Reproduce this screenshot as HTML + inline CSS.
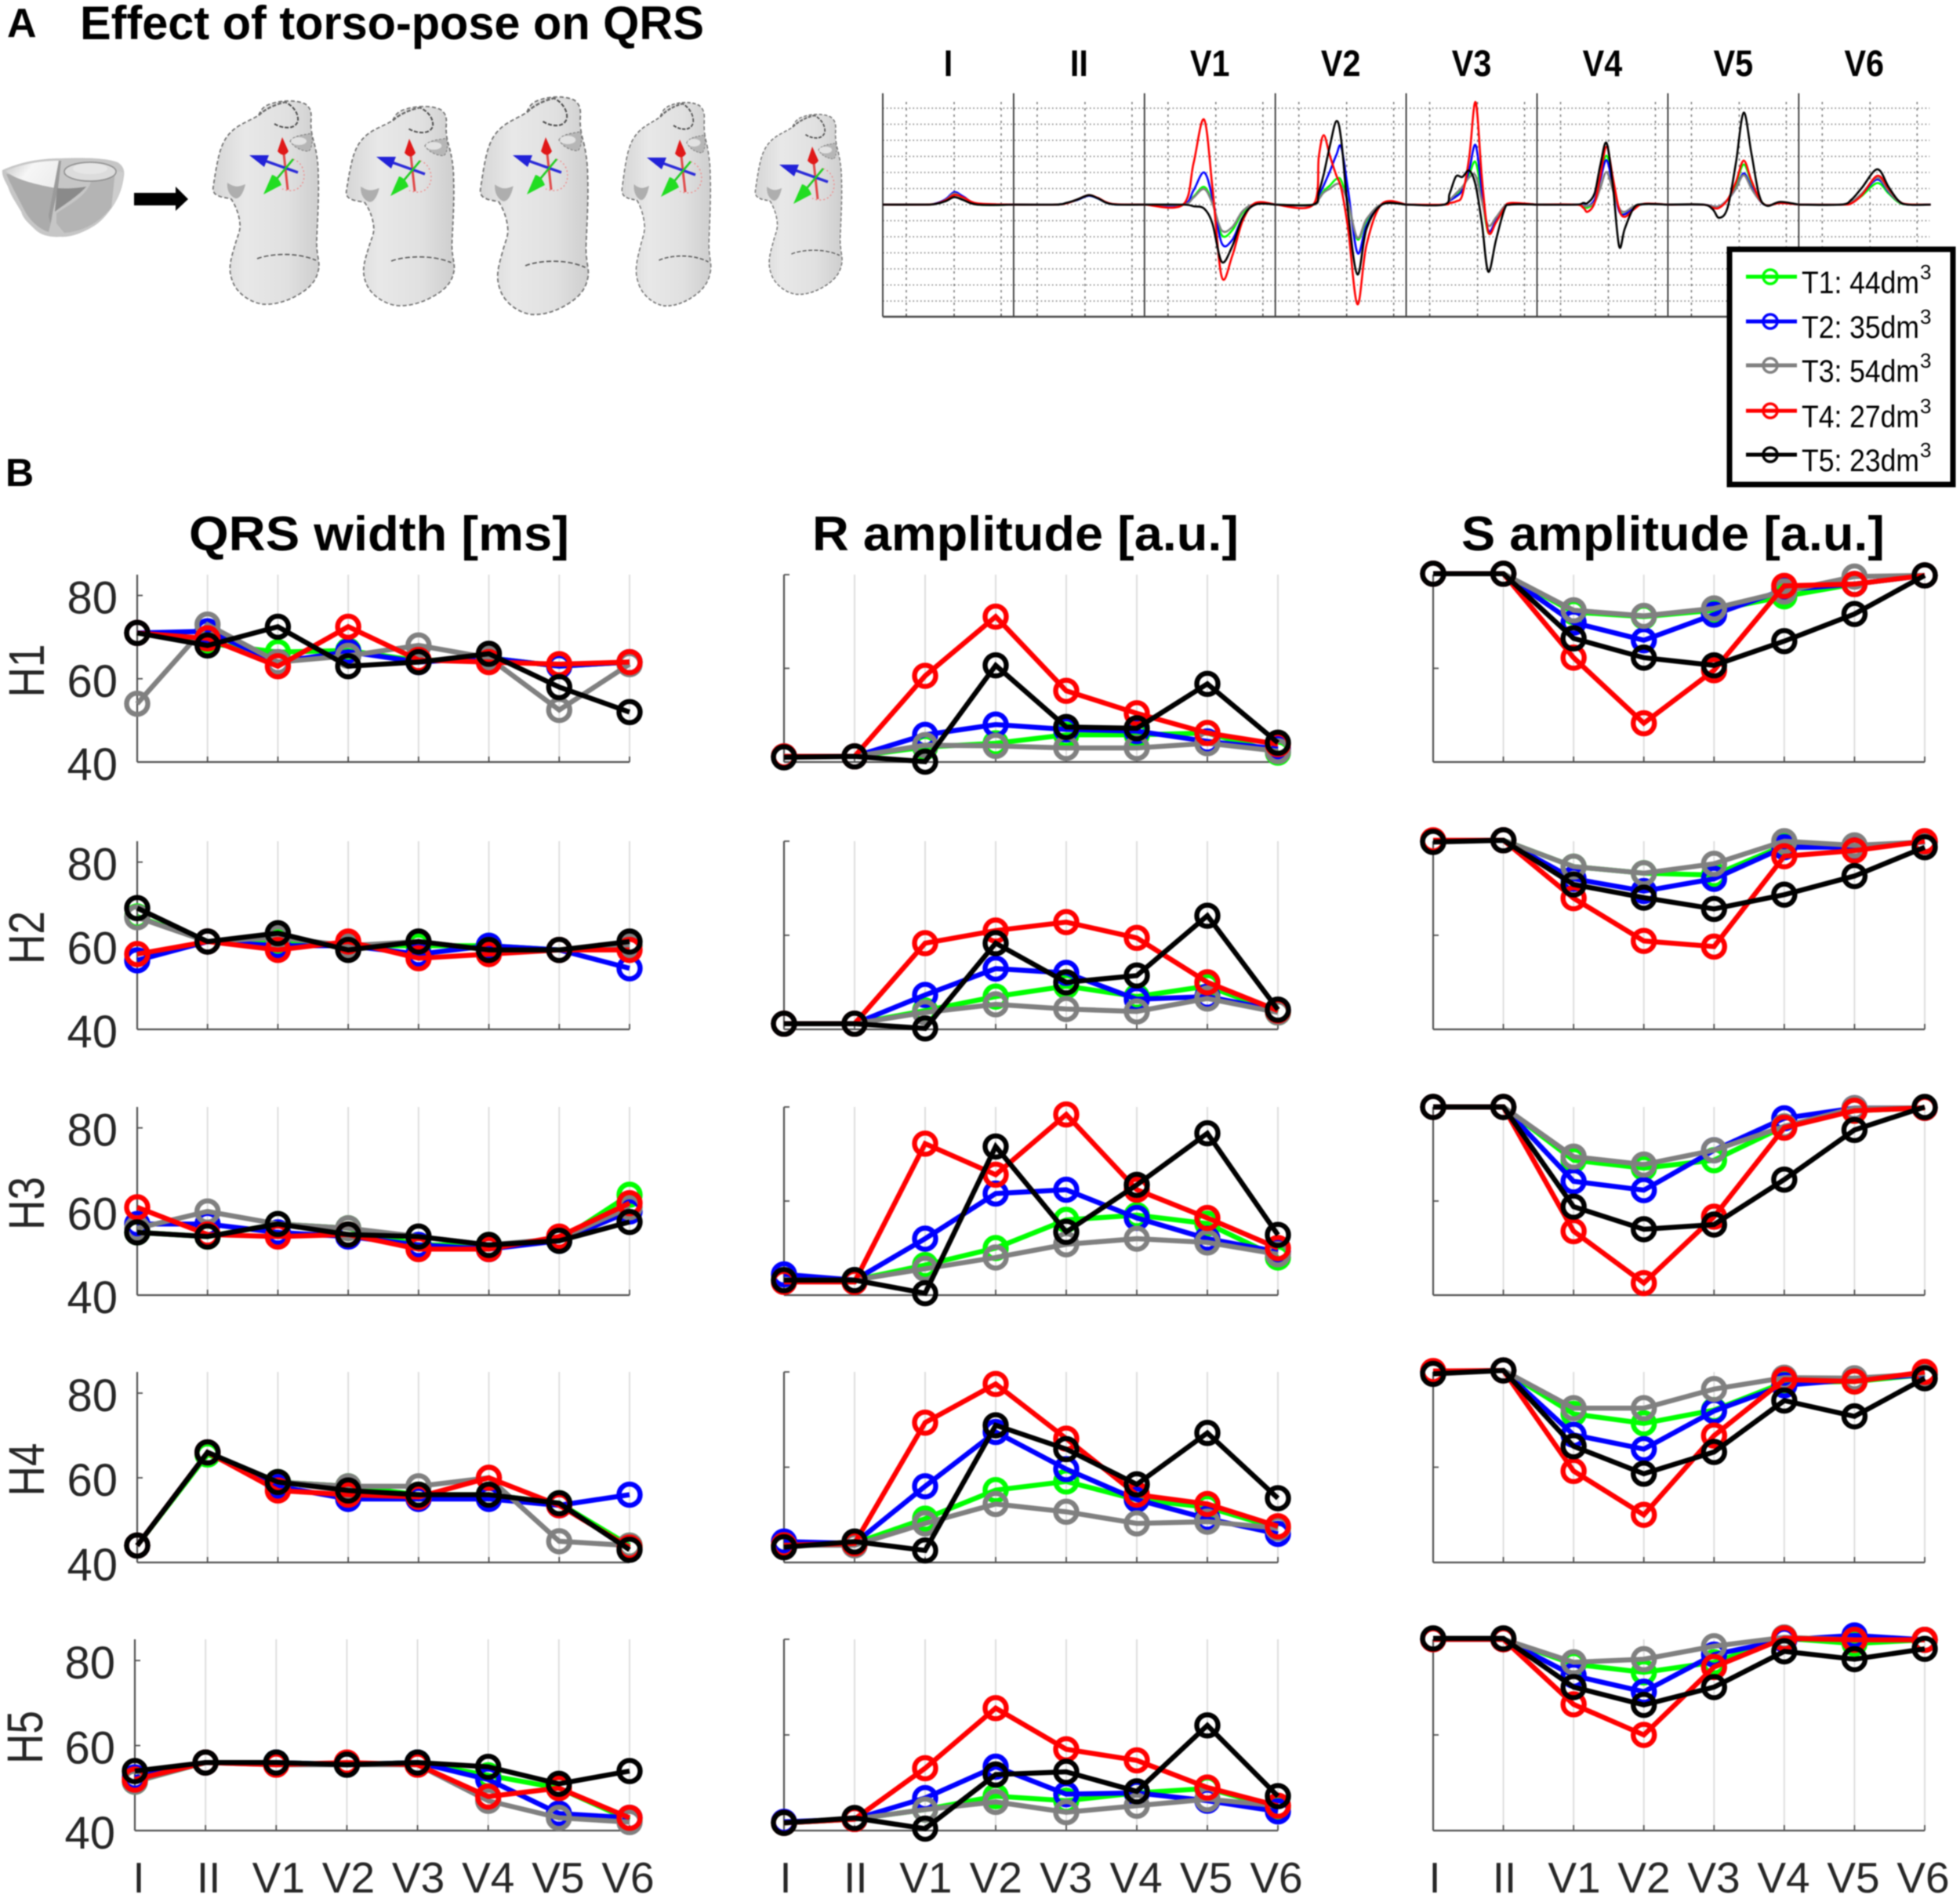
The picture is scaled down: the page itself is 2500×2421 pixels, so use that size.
<!DOCTYPE html>
<html lang="en">
<head>
<meta charset="utf-8">
<title>Effect of torso-pose on QRS</title>
<style>
html,body{margin:0;padding:0;background:#fff;}
body{width:2500px;height:2421px;overflow:hidden;}
svg{display:block;filter:blur(0.9px);font-family:"Liberation Sans",Arial,sans-serif;}
</style>
</head>
<body>
<svg id="figure" xmlns="http://www.w3.org/2000/svg" width="2500" height="2421" viewBox="0 0 2500 2421">
  <defs>
    <linearGradient id="torsoFill" x1="0" y1="0" x2="1" y2="0">
      <stop offset="0" stop-color="#d6d6d6"/>
      <stop offset="0.3" stop-color="#e8e8e8"/>
      <stop offset="0.7" stop-color="#e0e0e0"/>
      <stop offset="1" stop-color="#cecece"/>
    </linearGradient>
    <linearGradient id="heartLight" x1="0" y1="0" x2="1" y2="0.4">
      <stop offset="0" stop-color="#c4c4c4"/>
      <stop offset="0.5" stop-color="#f6f6f6"/>
      <stop offset="1" stop-color="#eeeeee"/>
    </linearGradient>
    <g id="torsoShape">
      <path d="M55 17 C58 8 64 4 72 2 C84 -2 104 -3 115 3 C121 8 122 12 122 20 C121 30 122 38 124 46 C128 60 131 75 131 95 C132 120 130 150 129 175 C128 195 134 205 131 215 C128 230 118 240 98 250 C85 256 72 259 60 258 C45 256 28 245 22 230 C16 215 18 205 24 185 C28 170 32 165 31 155 C30 145 27 135 20 124 C14 122 8 122 4 120 C-2 118 -4 114 -3 108 C-1 95 2 75 6 62 C10 50 14 44 20 38 C30 28 44 24 55 17 Z" fill="url(#torsoFill)" stroke="#6e6e6e" stroke-width="1.7" stroke-dasharray="5 3"/>
      <path d="M75 28 C85 34 102 36 105 24 C106 14 98 4 88 0" fill="none" stroke="#4a4a4a" stroke-width="2" stroke-dasharray="5 2"/>
      <path d="M55 17 C62 10 75 3 90 0" fill="none" stroke="#666" stroke-width="2.4" stroke-dasharray="5 2"/>
      <path d="M95 50 C100 42 115 42 122 40 C125 50 122 62 118 63 C108 62 100 58 95 50 Z" fill="#b6b6b6" stroke="#777" stroke-width="1" stroke-dasharray="3 2"/>
      <ellipse cx="106" cy="50" rx="10" ry="5" fill="#e2e2e2"/>
      <path d="M15 103 C25 110 30 108 38 105 C35 118 30 124 25 123 C18 120 14 112 15 103 Z" fill="#aeaeae"/>
      <path d="M53 200 C65 195 100 190 128 202" fill="none" stroke="#555" stroke-width="1.6" stroke-dasharray="6 3"/>
    </g>
    <g id="axisArrows">
      <path d="M2 27 L-4 -28" stroke="#e04848" stroke-width="3"/>
      <path d="M-5 -40 L3 -22 Q-3 -13 -11 -22 Z" fill="#e01818"/>
      <path d="M9 -12 C26 -6 28 20 12 27 C6 29 0 28 -5 26" fill="none" stroke="#e88" stroke-width="1.4" stroke-dasharray="2 3"/>
      <path d="M15 5 L-30 -11" stroke="#2a2ad8" stroke-width="3.4"/>
      <path d="M-47 -17 L-28 -2 L-22 -17 Z" fill="#2222d8"/>
      <path d="M9 -12 L-16 18" stroke="#22cc22" stroke-width="2.6"/>
      <path d="M-29 33 L-6 21 Q-10 10 -18 8 Z" fill="#22dd22"/>
    </g>
  </defs>

  <text x="9" y="47" font-size="52" font-weight="700" fill="#000">A</text>
  <text x="102" y="50" font-size="60" font-weight="700" fill="#000" textLength="796" lengthAdjust="spacingAndGlyphs">Effect of torso-pose on QRS</text>
  <text x="7" y="620" font-size="50" font-weight="700" fill="#000">B</text>

  <g>
    <path d="M3 217 C25 207 50 202 77 202 C105 201 135 201 150 207 C158 212 159 218 158 225 C156 240 152 250 146 260 C136 275 128 284 117 290 C105 297 90 303 77 302 C64 303 52 300 45 293 C36 284 30 280 27 270 C20 258 14 250 10 238 C6 230 2 224 3 217 Z" fill="#c6c6c6"/>
    <path d="M8 222 C25 222 40 232 71 240 L66 280 L62 296 C50 292 38 282 30 266 C22 250 14 236 8 222 Z" fill="#ababab"/>
    <path d="M7 218 C25 210 50 205 75 205 L71 240 C50 236 20 230 7 218 Z" fill="url(#heartLight)"/>
    <path d="M75 205 L78 205 L74 240 L64 285 L62 275 Z" fill="#9a9a9a"/>
    <path d="M73 240 C85 241 100 240 110 238 C100 250 80 262 70 270 Z" fill="#8a8a8a"/>
    <path d="M80 222 L147 218 L144 262 C132 278 112 295 82 297 L72 285 L72 272 C90 260 110 250 116 232 Z" fill="#b4b4b4"/>
    <path d="M147 218 L157 220 C156 240 150 255 142 266 Z" fill="#cdcdcd"/>
    <ellipse cx="115" cy="219" rx="33" ry="12" fill="#dcdcdc" stroke="#8c8c8c" stroke-width="1.5"/>
    <ellipse cx="115" cy="215" rx="22" ry="7" fill="#e6e6e6"/>
  </g>
  <path d="M171 246 L224 246 L224 238 L240 254 L224 269 L224 262 L171 262 Z" fill="#000"/>

  <use href="#torsoShape" transform="translate(275,130) scale(1,1)"/>
  <use href="#torsoShape" transform="translate(445,137) scale(1.02,0.98)"/>
  <use href="#torsoShape" transform="translate(616,125) scale(1.02,1.07)"/>
  <use href="#torsoShape" transform="translate(796,132) scale(0.84,1)"/>
  <use href="#torsoShape" transform="translate(966,147) scale(0.82,0.885)"/>
  <use href="#axisArrows" transform="translate(365,215)"/>
  <use href="#axisArrows" transform="translate(527,217)"/>
  <use href="#axisArrows" transform="translate(701,215)"/>
  <use href="#axisArrows" transform="translate(872,218)"/>
  <use href="#axisArrows" transform="translate(1041,227)"/>

  <g id="ecgLayer"></g>
  <g id="plotLayer"></g>

  <text x="241" y="702" font-size="62" font-weight="700" fill="#000" textLength="485" lengthAdjust="spacingAndGlyphs">QRS width [ms]</text>
  <text x="1036" y="702" font-size="62" font-weight="700" fill="#000" textLength="544" lengthAdjust="spacingAndGlyphs">R amplitude [a.u.]</text>
  <text x="1864" y="702" font-size="62" font-weight="700" fill="#000" textLength="540" lengthAdjust="spacingAndGlyphs">S amplitude [a.u.]</text>

  <g>
    <rect x="2206" y="318" width="285" height="300" fill="#fff" stroke="#000" stroke-width="7"/>
    <g>
      <line x1="2227" y1="353" x2="2292" y2="353" stroke="#00ff00" stroke-width="5"/>
      <circle cx="2258" cy="353" r="9" fill="none" stroke="#00ff00" stroke-width="3.5"/>
      <text x="2298" y="374" font-size="40" fill="#000" textLength="150" lengthAdjust="spacingAndGlyphs">T1: 44dm</text>
      <text x="2449" y="356" font-size="26" fill="#000">3</text>
    </g>
    <g>
      <line x1="2227" y1="410" x2="2292" y2="410" stroke="#0000ff" stroke-width="5"/>
      <circle cx="2258" cy="410" r="9" fill="none" stroke="#0000ff" stroke-width="3.5"/>
      <text x="2298" y="431" font-size="40" fill="#000" textLength="150" lengthAdjust="spacingAndGlyphs">T2: 35dm</text>
      <text x="2449" y="413" font-size="26" fill="#000">3</text>
    </g>
    <g>
      <line x1="2227" y1="466" x2="2292" y2="466" stroke="#808080" stroke-width="5"/>
      <circle cx="2258" cy="466" r="9" fill="none" stroke="#808080" stroke-width="3.5"/>
      <text x="2298" y="487" font-size="40" fill="#000" textLength="150" lengthAdjust="spacingAndGlyphs">T3: 54dm</text>
      <text x="2449" y="469" font-size="26" fill="#000">3</text>
    </g>
    <g>
      <line x1="2227" y1="524" x2="2292" y2="524" stroke="#ff0000" stroke-width="5"/>
      <circle cx="2258" cy="524" r="9" fill="none" stroke="#ff0000" stroke-width="3.5"/>
      <text x="2298" y="545" font-size="40" fill="#000" textLength="150" lengthAdjust="spacingAndGlyphs">T4: 27dm</text>
      <text x="2449" y="527" font-size="26" fill="#000">3</text>
    </g>
    <g>
      <line x1="2227" y1="580" x2="2292" y2="580" stroke="#000000" stroke-width="5"/>
      <circle cx="2258" cy="580" r="9" fill="none" stroke="#000000" stroke-width="3.5"/>
      <text x="2298" y="601" font-size="40" fill="#000" textLength="150" lengthAdjust="spacingAndGlyphs">T5: 23dm</text>
      <text x="2449" y="583" font-size="26" fill="#000">3</text>
    </g>
  </g>
</svg>

<script>
// ---- categories ----
const leads = ['I','II','V1','V2','V3','V4','V5','V6'];
const heartRows = ['H1','H2','H3','H4','H5'];
const seriesColors = ['#00ff00','#0000ff','#808080','#ff0000','#000000'];
const qrsTicks = [40,60,80];
const ampTicks = [0,50,100];

// ---- QRS width [ms]: one row per torso T1..T5 ----
const qrsH1 = [
  [71,68.5,66.4,66.8,64.3,65,63,64],
  [71,71.4,64,66.5,64,65,63,64],
  [54,73,64,65.5,68,65,52.5,63.5],
  [71,69.7,63,72.5,64.5,64,63.5,64],
  [71,68,72.5,63,64,66,58,52]];
const qrsH2 = [
  [67,61,61,60,60,60,59,60],
  [56.5,61,60,60,58,60,59,54.6],
  [66.8,61,62,60,61,59,59,60],
  [58,61,59,61,57,58,59,59],
  [69,61,63,59,61,59,59,61]];
const qrsH3 = [
  [55,54,57,56,52,52,53,64],
  [57,57,55,54,52,51,53,60],
  [56,60,57,56,54,52,53.5,61],
  [61,54.5,54,54.5,51,51,54,62],
  [55,54,57,54.5,54,52,53,57.5]];
const qrsH4 = [
  [44,65.5,59,58,56,56,54,44],
  [44,66,58,55,55,55,53.5,56],
  [44,66,59,58,58,60,45,44],
  [44,66,57,56,55.5,60,53.5,43.5],
  [44,66,59,57,56,56,54,43]];
const qrsH5 = [
  [51.5,56,56,55.5,56,53,50,42.5],
  [52.5,56,56,55.5,56,52,44,43],
  [51.5,56,55.5,55.5,55.5,47,43,42],
  [52,56,55.5,56,55.5,48,50,43],
  [54,56,56,55.5,56,55,51,54]];

// ---- R amplitude (percent of axis height) ----
const rH1 = [
  [3,3,8,10,14.5,14.5,15.5,5],
  [3,3,14.5,20,17.4,16.5,11,7],
  [3,3,9,8.6,7.5,7.5,10,5.8],
  [3,3,46,77.6,38,26,15.5,9.5],
  [2.5,3,0.2,51.6,18.7,18,41.7,10.3]];
const rH2 = [
  [3,3,10,17.4,23,17.4,23,9],
  [3,3,18.3,32.3,30,16,17.4,10],
  [3,3,9,13.3,10.8,9.5,16.4,9],
  [3,3,45.8,52.5,57,48.6,25,10],
  [3,3,0.5,45.8,25,28.6,60.4,10.5]];
const rH3 = [
  [8,8,16,25,40,42.5,38,20],
  [11,8,30,54,56,41,30,23],
  [8,8,14,20,27,30,28,21.7],
  [7,7,80.5,64,96,56,41,25],
  [8,8,1,79,33.6,58.6,86,32]];
const rH4 = [
  [9,10,23,38,42.5,33,29,18],
  [11,10,40,68.5,49,33,23,15],
  [9,9,20.5,30.7,26.6,20.5,21.4,18],
  [9,10,73.4,93.7,65,35.6,30.7,19],
  [8,11,6.3,72,59.5,41,68,33.7]];
const rH5 = [
  [4,6,11,18,15.6,19.7,22,12],
  [4.6,6,17,33.4,19,19.7,15.6,10],
  [4,6,11,15,9.6,13,16.4,13],
  [4,6,32.6,64,42.5,36.7,22.5,13],
  [4,6.6,1,29.3,30.7,20.5,55,18]];

// ---- S amplitude (percent of axis height) ----
const sH1 = [
  [100.5,100.5,80,77.6,81,88.4,95,99.6],
  [100.5,100.5,74.4,65,78.7,92,95,99.6],
  [100.5,100.5,81,78,82,91,99,99.6],
  [100.5,100.5,55.7,20.7,49,94,95,99.6],
  [100.5,100.5,66,55.7,51.6,64.5,79,99.6]];
const sH2 = [
  [100,100.5,86.5,83,82,97.8,96.8,99.6],
  [100,100.5,80,73.5,80,96.8,96.8,99.6],
  [100,100.5,86.5,83,88,100,97.8,99.6],
  [100.5,100.5,69.7,47,44,92,95,100],
  [99.6,100.5,77,70,64,71.6,81.5,96.8]];
const sH3 = [
  [100,100,71.7,67.5,71.7,89.7,98,99.5],
  [100,100,60.5,55.8,77,94,99.4,99.5],
  [100,100,73.6,69.4,77,89.7,99.4,99.5],
  [100,100,34,6.4,41.7,89,98,99.5],
  [100,100,47,35,37.5,61.4,87.8,100]];
const sH4 = [
  [100,100.8,78,73,80,94.5,95,98.6],
  [100,100.8,67,59.5,79.5,93,96,98.6],
  [100,100.8,81,81,91,97,96.7,99],
  [100.5,100.8,48,25,66.6,96,95,100],
  [99,100.8,61,46.6,58,85,76.7,96.7]];
const sH5 = [
  [100,100,87,82.7,88,100.5,97.8,99.7],
  [100,100,81,72.6,92,99.7,102,99.7],
  [100,100,88,89.6,96.4,101,99.7,99.7],
  [100,100,66,50,85.5,100.5,99.7,99.7],
  [100.5,100.5,75,65.7,75,93.7,89.6,95]];

// ---- ECG waveforms: sample times and amplitudes (grid units), T1..T5 ----
const ecgI_t = [0,60,75,90,102,115,135,187];
const ecgI = [
  [0,0,.05,.25,.65,.4,0,0],
  [0,0,.07,.35,.78,.5,.05,0],
  [0,0,.05,.3,.7,.4,0,0],
  [0,0,.05,.28,.6,.45,.08,0],
  [0,0,.04,.22,.47,.28,0,0]];
const ecgII_t = [0,60,75,90,107,120,140,187];
const ecgII = [
  [0,0,.1,.28,.55,.38,.03,0],
  [0,0,.1,.28,.55,.38,.03,0],
  [0,0,.1,.32,.6,.4,.03,0],
  [0,0,.08,.3,.58,.42,.05,0],
  [0,0,.1,.3,.58,.4,.03,0]];
const ecgV1_t = [0,55,70,85,97,110,125,140,158,187];
const ecgV1 = [
  [0,0,.5,1.1,.1,-1.9,-1.6,-.5,.05,0],
  [0,0,.9,2.0,.4,-2.4,-2.2,-.8,.05,0],
  [0,0,.45,.97,.05,-1.6,-1.4,-.4,.05,0],
  [0,0,2.6,5.29,1.0,-4.49,-3.2,-1.0,.1,0],
  [0,0,-.1,-.25,-1.2,-3.56,-2.6,-.8,0,0]];
const ecgV2_t = [0,54,62,69,78,87,94,104,117,130,152,187];
const ecgV2 = [
  [0,0,.4,.85,1.2,1.6,1.5,.1,-2.16,-1.0,.03,0],
  [0,0,.6,1.2,2.1,3.1,3.57,.8,-3.0,-1.3,.05,0],
  [0,0,.35,.75,1.0,1.28,1.15,.1,-2.07,-.9,.03,0],
  [0,0,3.0,4.32,3.0,1.8,1.0,-1.6,-6.2,-2.5,.05,0],
  [0,0,.8,1.9,3.7,5.2,4.0,-.6,-4.34,-1.5,0,0]];
const ecgV3_t = [0,54,62,71,80,90,99,108,117,128,140,149,187];
const ecgV3 = [
  [0,0,.25,.6,1.0,1.9,2.64,.5,-1.75,-1.1,-.2,.05,0],
  [0,0,.25,.5,.9,2.2,3.7,.8,-1.6,-1.0,-.2,.05,0],
  [0,0,.3,.7,1.1,1.7,1.8,.2,-1.3,-.8,-.1,.05,0],
  [0,0,.1,.2,.6,3.0,6.37,1.6,-1.7,-1.1,-.2,.1,0],
  [0,0,.7,1.75,1.72,2.12,1.2,-1.2,-4.17,-2.2,-.3,0,0]];
const ecgV4_t = [0,55,66,72,82,90,99,108,117,125,138,152,187];
const ecgV4 = [
  [0,0,-.1,-.2,.2,1.5,3.05,1.4,-.3,-.6,-.2,.03,0],
  [0,0,0,-.1,.3,1.5,2.77,1.2,-.4,-.6,-.2,.03,0],
  [0,0,-.05,-.1,.15,1.0,2.03,.9,-.2,-.45,-.1,.03,0],
  [0,0,-.2,-.45,.1,1.7,3.6,1.7,-.3,-.76,-.3,.05,0],
  [0,0,.1,.1,.7,2.4,3.84,1.2,-2.59,-1.5,-.2,.03,0]];
const ecgV5_t = [0,50,64,73,85,97,108,119,130,141,160,187];
const ecgV5 = [
  [0,0,-.15,-.15,.3,1.3,2.5,1.4,.4,-.05,.1,0],
  [0,0,-.1,-.1,.3,1.0,1.94,1.1,.3,-.05,.1,0],
  [0,0,-.1,-.1,.3,1.0,1.84,1.0,.3,-.05,.1,0],
  [0,0,-.2,-.2,.3,1.4,2.74,1.5,.4,-.05,.1,0],
  [0,0,-.3,-.82,-.2,2.6,5.72,3.2,.6,-.07,.17,0]];
const ecgV6_t = [0,60,75,90,112,128,142,155,188];
const ecgV6 = [
  [0,0,.1,.55,1.34,.7,.15,0,0],
  [0,0,.15,.65,1.56,.8,.2,0,0],
  [0,0,.15,.7,1.66,.85,.2,0,0],
  [0,0,.08,.6,1.79,1.0,.25,.02,0],
  [0,0,.3,1.05,2.2,1.1,.25,0,0]];

const NS = 'http://www.w3.org/2000/svg';
function mk(tag, attrs, parent, text) {
  const el = document.createElementNS(NS, tag);
  for (const k in attrs) el.setAttribute(k, attrs[k]);
  if (text !== undefined) el.textContent = text;
  parent.appendChild(el);
  return el;
}

// ---------- Panel B small multiples ----------
const rowTop = [733,1073,1412,1750,2091];
const rowBottom = [972,1313,1652,1993,2335];
const colLeft = [175,1000,1828];
const colRight = [803,1630,2455];
const columns = [
  {rows:[qrsH1,qrsH2,qrsH3,qrsH4,qrsH5], domain:[40,85], ticks:qrsTicks, labelled:true},
  {rows:[rH1,rH2,rH3,rH4,rH5], domain:[0,100], ticks:ampTicks, labelled:false},
  {rows:[sH1,sH2,sH3,sH4,sH5], domain:[0,100], ticks:ampTicks, labelled:false}
];
const plotLayer = document.getElementById('plotLayer');

function xScale(c, r, i) {
  const left = (c === 0 && r === 4) ? 172 : colLeft[c];
  return left + (colRight[c] - left) * i / (leads.length - 1);
}
function yScale(c, r, v) {
  const d = columns[c].domain;
  return rowBottom[r] - (v - d[0]) / (d[1] - d[0]) * (rowBottom[r] - rowTop[r]);
}
function labelX(c, i) {
  return colLeft[c] + 2 + (colRight[c] - colLeft[c] - 4) * i / (leads.length - 1);
}

columns.forEach(function (col, c) {
  col.rows.forEach(function (rowData, r) {
    const g = mk('g', {}, plotLayer);
    
    
    const x0 = xScale(c, r, 0);
    const x1 = xScale(c, r, leads.length - 1);
    const top = rowTop[r];
    const bot = rowBottom[r];

    leads.forEach(function (lead, i) {
      const x = xScale(c, r, i);
      if (i > 0) {
        const grid = mk('line', {x1:x, x2:x, y1:top, y2:bot, stroke:'#dedede', 'stroke-width':2}, g);
        
        
      }
      const tick = mk('line', {x1:x, x2:x, y1:bot, y2:bot-7, stroke:'#505050', 'stroke-width':1.8}, g);
      
      
      if (r === rowBottom.length - 1) {
        const lab = mk('text', {x:labelX(c, i), y:2414, 'font-size':55, fill:'#262626', 'text-anchor':'middle'}, g, lead);
        
        
      }
    });

    const yAxis = mk('line', {x1:x0, x2:x0, y1:top, y2:bot, stroke:'#505050', 'stroke-width':2.2}, g);
    
    
    const xAxis = mk('line', {x1:x0, x2:x1, y1:bot, y2:bot, stroke:'#505050', 'stroke-width':2.2}, g);
    
    

    col.ticks.forEach(function (t) {
      const y = yScale(c, r, t);
      const tk = mk('line', {x1:x0, x2:x0+7, y1:y, y2:y, stroke:'#505050', 'stroke-width':1.8}, g);
      
      
      if (col.labelled) {
        const tl = mk('text', {x:x0-25, y:y+23, 'font-size':58, fill:'#262626', 'text-anchor':'end'}, g, String(t));
        
        
      }
    });

    if (c === 0) {
      const cy = (top + bot) / 2 + 3;
      const bx = r === 4 ? 54 : 56;
      const hl = mk('text', {x:bx, y:cy, 'font-size':64, fill:'#262626', 'text-anchor':'middle', textLength:68, lengthAdjust:'spacingAndGlyphs', transform:'rotate(-90 '+bx+' '+cy+')'}, g, heartRows[r]);
      
      
    }

    rowData.forEach(function (vals, s) {
      const pts = vals.map(function (v, i) { return xScale(c, r, i).toFixed(1) + ',' + yScale(c, r, v).toFixed(1); }).join(' ');
      const line = mk('polyline', {points:pts, fill:'none', stroke:seriesColors[s], 'stroke-width':6.4, 'stroke-linejoin':'miter'}, g);
      
      
      vals.forEach(function (v, i) {
        const m = mk('circle', {cx:xScale(c, r, i), cy:yScale(c, r, v), r:13.5, fill:'none', stroke:seriesColors[s], 'stroke-width':6.4}, g);
        
        
      });
    });
  });
});

// ---------- Panel A ECG ----------
const ecgLayer = document.getElementById('ecgLayer');
const ecgLeads = [
  {t:ecgI_t, v:ecgI},{t:ecgII_t, v:ecgII},{t:ecgV1_t, v:ecgV1},{t:ecgV2_t, v:ecgV2},
  {t:ecgV3_t, v:ecgV3},{t:ecgV4_t, v:ecgV4},{t:ecgV5_t, v:ecgV5},{t:ecgV6_t, v:ecgV6}
];
const ecgLeft = 1126, ecgStep = 166.9, ecgBase = 261, ecgUnit = 20.5, ecgTop = 119, ecgBottom = 404, ecgTimeScale = 0.895;
function ecgX(p, t) { return ecgLeft + p * ecgStep + t * ecgTimeScale; }
function ecgY(v) { return ecgBase - v * ecgUnit; }
function smoothPath(xs, ys) {
  let d = 'M' + xs[0].toFixed(1) + ' ' + ys[0].toFixed(1);
  for (let i = 0; i < xs.length - 1; i++) {
    const i0 = Math.max(i - 1, 0), i3 = Math.min(i + 2, xs.length - 1);
    let c1x = xs[i] + (xs[i+1] - xs[i0]) / 6, c1y = ys[i] + (ys[i+1] - ys[i0]) / 6;
    let c2x = xs[i+1] - (xs[i3] - xs[i]) / 6, c2y = ys[i+1] - (ys[i3] - ys[i]) / 6;
    d += ' C' + c1x.toFixed(1) + ' ' + c1y.toFixed(1) + ' ' + c2x.toFixed(1) + ' ' + c2y.toFixed(1) + ' ' + xs[i+1].toFixed(1) + ' ' + ys[i+1].toFixed(1);
  }
  return d;
}
for (let k = -6; k <= 6; k++) {
  const y = ecgY(k);
  const hg = mk('line', {x1:ecgLeft, x2:ecgLeft + 8 * ecgStep, y1:y, y2:y, stroke:'#777', 'stroke-width':1.6, 'stroke-dasharray':'1.6 3.2'}, ecgLayer);
  
  
}
leads.forEach(function (lead, p) {
  [30, 91, 151].forEach(function (off) {
    const x = ecgLeft + p * ecgStep + off;
    const vg = mk('line', {x1:x, x2:x, y1:130, y2:ecgBottom, stroke:'#777', 'stroke-width':1.6, 'stroke-dasharray':'3 5'}, ecgLayer);
    
    
    const tk = mk('line', {x1:x, x2:x, y1:ecgBottom-4, y2:ecgBottom, stroke:'#444', 'stroke-width':1.5}, ecgLayer);
    
    
  });
  const sep = mk('line', {x1:ecgLeft + p*ecgStep, x2:ecgLeft + p*ecgStep, y1:ecgTop, y2:ecgBottom, stroke:'#333', 'stroke-width':1.8}, ecgLayer);
  
  
  const lx = ecgLeft + (p + 0.5) * ecgStep;
  const lab = mk('text', {transform:'translate(' + lx + ',97) scale(0.88,1)', 'font-size':47, 'font-weight':700, fill:'#000', 'text-anchor':'middle'}, ecgLayer, lead);
  
  
});
const ecgAxis = mk('line', {x1:ecgLeft, x2:ecgLeft + 8*ecgStep, y1:ecgBottom, y2:ecgBottom, stroke:'#444', 'stroke-width':2.4}, ecgLayer);


ecgLeads.forEach(function (leadData, p) {
  leadData.v.forEach(function (vals, s) {
    const xs = leadData.t.map(function (t) { return ecgX(p, t); });
    const ys = vals.map(ecgY);
    const wave = mk('path', {d:smoothPath(xs, ys), fill:'none', stroke:seriesColors[s], 'stroke-width':2.6}, ecgLayer);
    
    
  });
});
</script>
</body>
</html>
